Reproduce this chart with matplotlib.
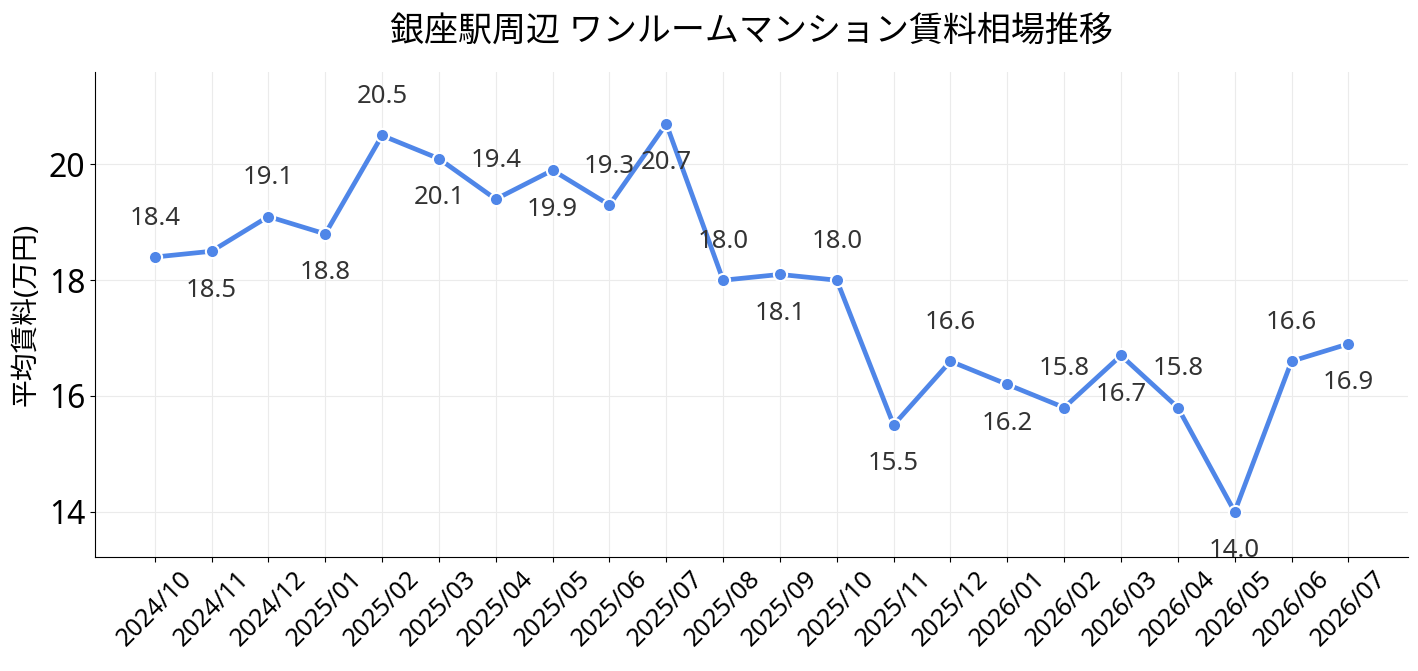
import matplotlib
matplotlib.use("Agg")
import matplotlib.pyplot as plt

plt.rcParams['font.family'] = ['Noto Sans', 'Noto Sans CJK JP', 'DejaVu Sans']

months = ["2024/10", "2024/11", "2024/12", "2025/01", "2025/02", "2025/03", "2025/04",
          "2025/05", "2025/06", "2025/07", "2025/08", "2025/09", "2025/10", "2025/11",
          "2025/12", "2026/01", "2026/02", "2026/03", "2026/04", "2026/05", "2026/06",
          "2026/07"]
rent = [18.4, 18.5, 19.1, 18.8, 20.5, 20.1, 19.4, 19.9, 19.3, 20.7, 18.0, 18.1,
        18.0, 15.5, 16.6, 16.2, 15.8, 16.7, 15.8, 14.0, 16.6, 16.9]

color = '#4F86E8'

fig, ax = plt.subplots(figsize=(14.18, 6.71), dpi=100)
fig.subplots_adjust(left=0.067, right=0.993, top=0.893, bottom=0.17)

x = list(range(len(months)))
ax.plot(x, rent, color=color, linewidth=3.4, marker='o', markersize=9.5,
        markeredgecolor='white', markeredgewidth=1.5, zorder=3)

for i, v in enumerate(rent):
    dy = 28 if i % 2 == 0 else -28
    ax.annotate(f"{v:.1f}", (i, v), textcoords='offset points', xytext=(0, dy),
                ha='center', va='center', fontsize=18.5, color='#333333')

ax.set_xticks(x)
ax.set_xticklabels(months, rotation=45, ha='center', fontsize=18)
ax.tick_params(axis='y', labelsize=23)
ax.set_ylim(13.22, 21.6)
ax.set_yticks([14, 16, 18, 20])
ax.set_ylabel("平均賃料(万円)", fontsize=20, labelpad=6)
ax.set_title("銀座駅周辺 ワンルームマンション賃料相場推移", fontsize=24.5, pad=22)
ax.grid(True, color='#ebebeb', linewidth=0.8)
ax.set_axisbelow(True)
for s in ['top', 'right']:
    ax.spines[s].set_visible(False)

fig.savefig("out.png", dpi=100)
